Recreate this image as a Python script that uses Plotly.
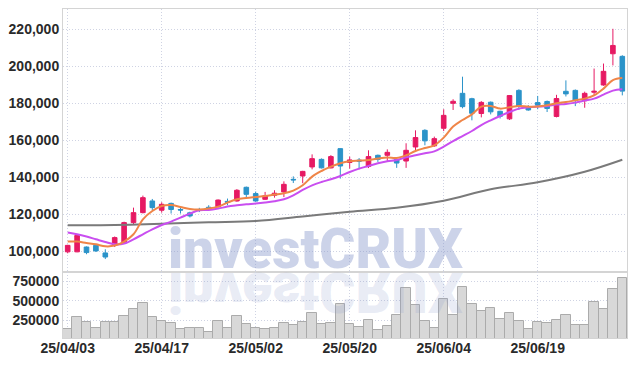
import plotly.graph_objects as go
from plotly.subplots import make_subplots

dates = [
    "2025-04-03", "2025-04-04", "2025-04-07", "2025-04-08", "2025-04-09", "2025-04-10", "2025-04-11",
    "2025-04-14", "2025-04-15", "2025-04-16", "2025-04-17", "2025-04-18", "2025-04-21", "2025-04-22",
    "2025-04-23", "2025-04-24", "2025-04-25", "2025-04-28", "2025-04-29", "2025-04-30", "2025-05-02",
    "2025-05-07", "2025-05-08", "2025-05-09", "2025-05-12", "2025-05-13", "2025-05-14", "2025-05-15",
    "2025-05-16", "2025-05-19", "2025-05-20", "2025-05-21", "2025-05-22", "2025-05-23", "2025-05-26",
    "2025-05-27", "2025-05-28", "2025-05-29", "2025-05-30", "2025-06-02", "2025-06-04", "2025-06-05",
    "2025-06-09", "2025-06-10", "2025-06-11", "2025-06-12", "2025-06-13", "2025-06-16", "2025-06-17",
    "2025-06-18", "2025-06-19", "2025-06-20", "2025-06-23", "2025-06-24", "2025-06-25", "2025-06-26",
    "2025-06-27", "2025-06-30", "2025-07-01", "2025-07-02",
]

opens = [99700, 99700, 102300, 103200, 99100, 103200, 104700, 115500, 120900, 127200,
         122200, 125900, 122600, 120800, 122600, 123800, 124100, 127000, 127200, 134600,
         131200, 128100, 130300, 132100, 138900, 140700, 145600, 149700, 145100, 155500,
         148000, 149300, 145900, 151900, 151900, 149700, 148800, 156400, 165400, 157000,
         166500, 180000, 185400, 182500, 174500, 180600, 175700, 171600, 187000, 178200,
         180400, 181000, 172900, 186500, 187000, 181400, 186000, 189900, 206800, 205400]
highs = [103500, 108900, 102600, 104000, 101100, 108000, 116000, 123600, 130100, 128300,
         126500, 126300, 124300, 121400, 123500, 124900, 128000, 128500, 133600, 135000,
         132300, 132100, 133000, 137800, 140500, 143500, 152400, 150200, 152000, 155700,
         151200, 150400, 154600, 152300, 155100, 150000, 158400, 165400, 166000, 162000,
         176800, 182200, 194400, 183000, 181200, 181000, 176000, 184500, 187600, 179000,
         184000, 181500, 184600, 192400, 187500, 186300, 198800, 201500, 220300, 206000]
lows = [98900, 99500, 98400, 99600, 95800, 102300, 104200, 114500, 120500, 122200,
        120900, 120400, 120400, 118300, 121200, 122200, 123800, 124900, 126800, 128600,
        126800, 127800, 129000, 129300, 136900, 136800, 144300, 144800, 144800, 139300,
        144700, 144300, 145000, 148300, 148800, 145100, 145100, 154600, 157300, 156500,
        165000, 176400, 177300, 170800, 172400, 174000, 171800, 171000, 176400, 176000,
        176800, 175300, 172400, 183700, 178500, 177600, 184300, 189500, 200500, 184300]
closes = [103200, 108600, 99300, 100200, 96900, 107400, 115500, 120900, 129000, 123600,
          125400, 122600, 122300, 119100, 122400, 122700, 127700, 126500, 133000, 130800,
          127200, 130000, 131400, 136200, 138600, 143200, 150100, 145100, 151200, 146100,
          149400, 148700, 151200, 149700, 153500, 147700, 154600, 161500, 159700, 160900,
          173500, 181100, 178200, 174600, 180500, 175400, 173000, 184200, 178500, 176400,
          179000, 177200, 182600, 185100, 181600, 185400, 186500, 197300, 211300, 186600]

ma_short = [105240, 105240, 104490, 103780, 102700, 103080, 105240, 109190, 117300, 121780,
            124490, 125030, 123950, 122860, 122540, 123080, 124160, 126320, 128110, 128810,
            129350, 129890, 130650, 131350, 132810, 135680, 140380, 143410, 145780, 147570,
            148650, 149030, 149350, 150110, 150650, 150430, 151890, 154220, 155840, 157300,
            161460, 167410, 170970, 174050, 178220, 178540, 177140, 177840, 178540, 178220,
            178220, 178920, 180000, 180700, 181620, 182540, 184320, 187950, 192590, 193680]
ma_mid = [110110, 109190, 107950, 106490, 105030, 103780, 104160, 106490, 109190, 111890,
          114220, 116050, 118220, 120380, 122160, 122320, 123080, 124160, 124860, 125410,
          125780, 126320, 127030, 128110, 130270, 133140, 135680, 137460, 138920, 140700,
          142860, 144700, 146110, 147570, 148650, 149350, 150810, 151890, 152970, 154050,
          156590, 159620, 162320, 165030, 168270, 170810, 173130, 175300, 177140, 177840,
          178220, 178540, 179300, 179620, 180380, 181460, 182540, 184700, 186860, 187570]
ma_long_dates = ["2025-04-03", "2025-04-10", "2025-04-17", "2025-04-24", "2025-05-02", "2025-05-13",
                 "2025-05-20", "2025-05-27", "2025-06-04", "2025-06-12", "2025-06-19", "2025-06-26",
                 "2025-07-02"]
ma_long = [114050, 114220, 114860, 115680, 116380, 118810, 121350, 123510, 127300, 133510,
           137300, 142970, 149460]

volumes = [138000, 288000, 228000, 147000, 224000, 224000, 301000, 391000, 468000, 288000,
           241000, 215000, 138000, 147000, 147000, 100000, 241000, 147000, 301000, 199000,
           147000, 135000, 151000, 211000, 186000, 224000, 340000, 199000, 215000, 459000,
           203000, 160000, 250000, 122000, 173000, 314000, 660000, 442000, 237000, 147000,
           519000, 314000, 673000, 455000, 365000, 404000, 263000, 340000, 237000, 135000,
           224000, 211000, 250000, 314000, 186000, 186000, 481000, 391000, 647000, 788000]

tick_dates = ["2025-04-03", "2025-04-17", "2025-05-02", "2025-05-20", "2025-06-04", "2025-06-19"]
tick_labels = ["25/04/03", "25/04/17", "25/05/02", "25/05/20", "25/06/04", "25/06/19"]
price_ticks = [100000, 120000, 140000, 160000, 180000, 200000, 220000]
volume_ticks = [250000, 500000, 750000]
watermark = "investCRUX"

UP = "#e61a63"
DOWN = "#2b93c9"
GRID = "#cfd3e3"
FRAME = "#d4d4d4"
TICKFONT = dict(family="Liberation Sans", size=14, color="#2a2a2a", weight="bold")

fig = make_subplots(rows=2, cols=1, shared_xaxes=True, vertical_spacing=0,
                    row_heights=[263, 66])

fig.add_trace(go.Scatter(x=ma_long_dates, y=ma_long, mode="lines",
                         line=dict(color="#7a7a7a", width=2, shape="spline"),
                         hoverinfo="skip", showlegend=False), row=1, col=1)
fig.add_trace(go.Scatter(x=dates, y=ma_mid, mode="lines",
                         line=dict(color="#c94ef0", width=2, shape="spline"),
                         hoverinfo="skip", showlegend=False), row=1, col=1)
fig.add_trace(go.Scatter(x=dates, y=ma_short, mode="lines",
                         line=dict(color="#ef8548", width=2, shape="spline"),
                         hoverinfo="skip", showlegend=False), row=1, col=1)
fig.add_trace(go.Candlestick(x=dates, open=opens, high=highs, low=lows, close=closes,
                             increasing=dict(line=dict(color=UP, width=1), fillcolor=UP),
                             decreasing=dict(line=dict(color=DOWN, width=1), fillcolor=DOWN),
                             whiskerwidth=0, showlegend=False), row=1, col=1)
fig.add_trace(go.Bar(x=dates, y=volumes, marker=dict(color="#d8d8d8",
                                                      line=dict(color="#ababab", width=1)),
                     showlegend=False), row=2, col=1)

axis_common = dict(showline=True, linecolor=FRAME, linewidth=1, mirror=True,
                   showgrid=True, gridcolor=GRID, griddash="1px,2px", gridwidth=1,
                   zeroline=False, tickfont=TICKFONT, ticks="", automargin=False)

fig.update_xaxes(type="category", categoryorder="array", categoryarray=dates,
                 tickvals=tick_dates, ticktext=tick_labels, rangeslider_visible=False,
                 range=[-0.5, len(dates) - 0.5], ticklabelstandoff=-3, **axis_common)
fig.update_xaxes(showticklabels=False, row=1, col=1)
fig.update_yaxes(range=[88800, 231000], tickvals=price_ticks, tickformat=",d",
                 row=1, col=1, **axis_common)
fig.update_yaxes(range=[23000, 869000], tickvals=volume_ticks, tickformat="d",
                 row=2, col=1, **axis_common)

fig.add_annotation(text=watermark, xref="paper", yref="paper", x=0.447, y=0.168,
                   xanchor="center", yanchor="bottom", showarrow=False,
                   font=dict(family="Roboto", size=55, color="rgba(140,155,205,0.44)", weight=900))
fig.add_annotation(text=watermark, xref="paper", yref="paper", x=0.447, y=0.168,
                   xanchor="center", yanchor="bottom", showarrow=False,
                   font=dict(family="Roboto", size=55, color="rgba(140,155,205,0.2)", weight=900))

fig.update_layout(width=636, height=366, margin=dict(l=63, r=9, t=9, b=28, autoexpand=False),
                  paper_bgcolor="white", plot_bgcolor="white", bargap=0,
                  showlegend=False, hovermode=False)

post = """
document.body.style.margin = '0';
document.body.style.padding = '0';
var gd = document.getElementById('{plot_id}');
var anns = gd.querySelectorAll('g.annotation');
if (anns.length > 1) {
  var t = anns[0].querySelector('text');
  var svg = gd.querySelector('svg.main-svg');
  var r = t.getBoundingClientRect();
  var s = svg.getBoundingClientRect();
  var y0 = r.bottom - s.top - 0.21 * 55;
  anns[1].setAttribute('transform', 'translate(0,' + (2 * y0 + 2) + ') scale(1,-1)');
}
"""
fig.write_html("out.html", post_script=post, config={"displayModeBar": False})
